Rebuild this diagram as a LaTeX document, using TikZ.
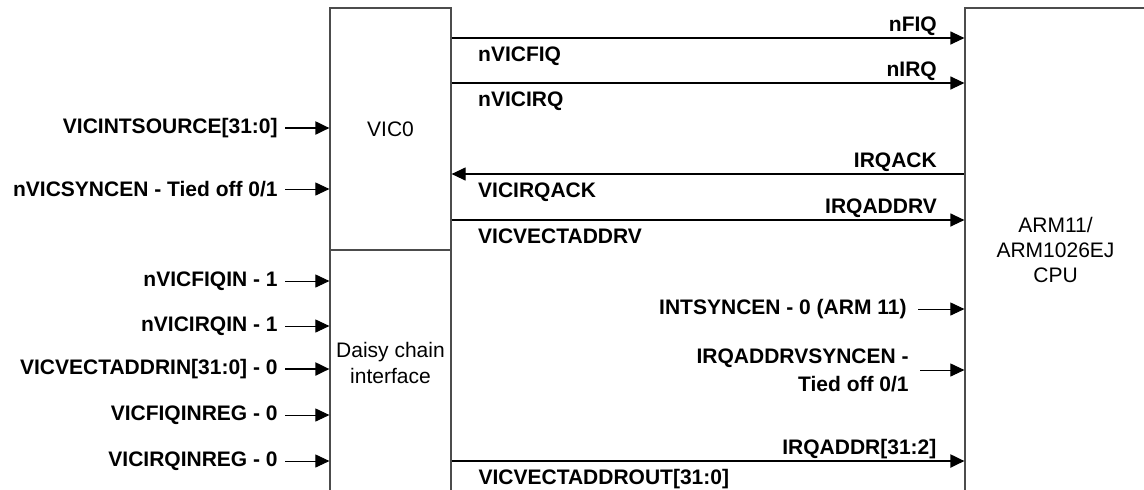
\documentclass[tikz,border=0pt]{standalone}
\usepackage{fontspec}
\setmainfont{Liberation Sans}
\usetikzlibrary{arrows.meta,positioning,calc}

\begin{document}
\begin{tikzpicture}[
    x=0.5pt, y=-0.5pt,
    font=\fontsize{10.5}{13}\selectfont,
    blk/.style={
        draw=black!70,
        line width=0.6pt,
        inner sep=0pt,
        align=center,
        minimum width=#1
    },
    lbl/.style={font=\bfseries\fontsize{10.5}{14}\selectfont, inner sep=0pt},
    hi/.style={lbl, pos=1, anchor=base east, xshift=-13.5pt, yshift=3.5pt},
    lo/.style={lbl, pos=0, anchor=base west, xshift=13pt, yshift=-11.5pt},
    sig/.style={-{Triangle[length=7pt,width=6.5pt]}, line width=0.6pt},
    rsig/.style={{Triangle[length=7pt,width=6.5pt]}-, line width=0.6pt},
    bus/.style={sig, line width=1pt},
    thin/.style={sig, line width=0.5pt}
]
\useasboundingbox (0,0) rectangle (1144,489);
\clip (0,0) rectangle (1144,489);

%-----------------------------------
% Blocks
%-----------------------------------
\node[blk=60.5pt, minimum height=121pt] (Vic) at (390.5,129) {VIC0};
\node[blk=60.5pt, minimum height=121pt] (Dc) at (390.5,371) {};
\node[align=center, inner sep=0pt] (Dctxt) at (390.5,363) {Daisy chain\\interface};
\node[blk=90.5pt, minimum height=242pt, font=\fontsize{10.5}{12.5}\selectfont]
    (Cpu) at (1055.5,250) {ARM11/\\ARM1026EJ\\CPU};

%-----------------------------------
% Inputs to VIC0
%-----------------------------------
\node[lbl, anchor=east] (Isrc)   at (278,128) {VICINTSOURCE[31:0]};
\node[lbl, anchor=east] (Vsync)  at (278,189) {nVICSYNCEN - Tied off 0/1};
\node[lbl, anchor=east] (Fiqin)  at (278,281) {nVICFIQIN - 1};
\node[lbl, anchor=east] (Irqin)  at (278,326) {nVICIRQIN - 1};
\node[lbl, anchor=east] (Vain)   at (278,369) {VICVECTADDRIN[31:0] - 0};
\node[lbl, anchor=east] (Fiqreg) at (278,415) {VICFIQINREG - 0};
\node[lbl, anchor=east] (Irqreg) at (278,461) {VICIRQINREG - 0};

\draw[bus]  ([xshift=3.5pt]Isrc.east)   -- (Isrc.east -| Vic.west);
\draw[thin] ([xshift=3.5pt]Vsync.east)  -- (Vsync.east -| Vic.west);
\draw[thin] ([xshift=3.5pt]Fiqin.east)  -- (Fiqin.east -| Dc.west);
\draw[thin] ([xshift=3.5pt]Irqin.east)  -- (Irqin.east -| Dc.west);
\draw[bus]  ([xshift=3.5pt]Vain.east)   -- (Vain.east -| Dc.west);
\draw[thin] ([xshift=3.5pt]Fiqreg.east) -- (Fiqreg.east -| Dc.west);
\draw[thin] ([xshift=3.5pt]Irqreg.east) -- (Irqreg.east -| Dc.west);

%-----------------------------------
% VIC0 <-> CPU
%-----------------------------------
\draw[sig] (Vic.east |- 0,38) -- (Cpu.west |- 0,38)
    node[hi] (Nfiq) {nFIQ} node[lo] (Nvfiq) {nVICFIQ};
\draw[sig] (Vic.east |- 0,83) -- (Cpu.west |- 0,83)
    node[hi] (Nirq) {nIRQ} node[lo] (Nvirq) {nVICIRQ};
\draw[rsig] (Vic.east |- 0,174) -- (Cpu.west |- 0,174)
    node[hi] (Ack) {IRQACK} node[lo] (Vack) {VICIRQACK};
\draw[sig] (Vic.east |- 0,220) -- (Cpu.west |- 0,220)
    node[hi] (Addrv) {IRQADDRV} node[lo] (Vaddrv) {VICVECTADDRV};
\draw[bus] (Dc.east |- 0,461) -- (Cpu.west |- 0,461)
    node[hi] (Addr) {IRQADDR[31:2]} node[lo] (Vaout) {VICVECTADDROUT[31:0]};

%-----------------------------------
% Tie-offs on the CPU
%-----------------------------------
\node[lbl, anchor=east] (Isync) at (907,309) {INTSYNCEN - 0 (ARM 11)};
\node[lbl, anchor=east, align=right] (Avsync) at (909,370) {IRQADDRVSYNCEN -\\Tied off 0/1};

\draw[thin] ([xshift=5.5pt]Isync.east)  -- (Isync.east -| Cpu.west);
\draw[thin] ([xshift=5.5pt]Avsync.east) -- (Avsync.east -| Cpu.west);

\end{tikzpicture}
\end{document}
